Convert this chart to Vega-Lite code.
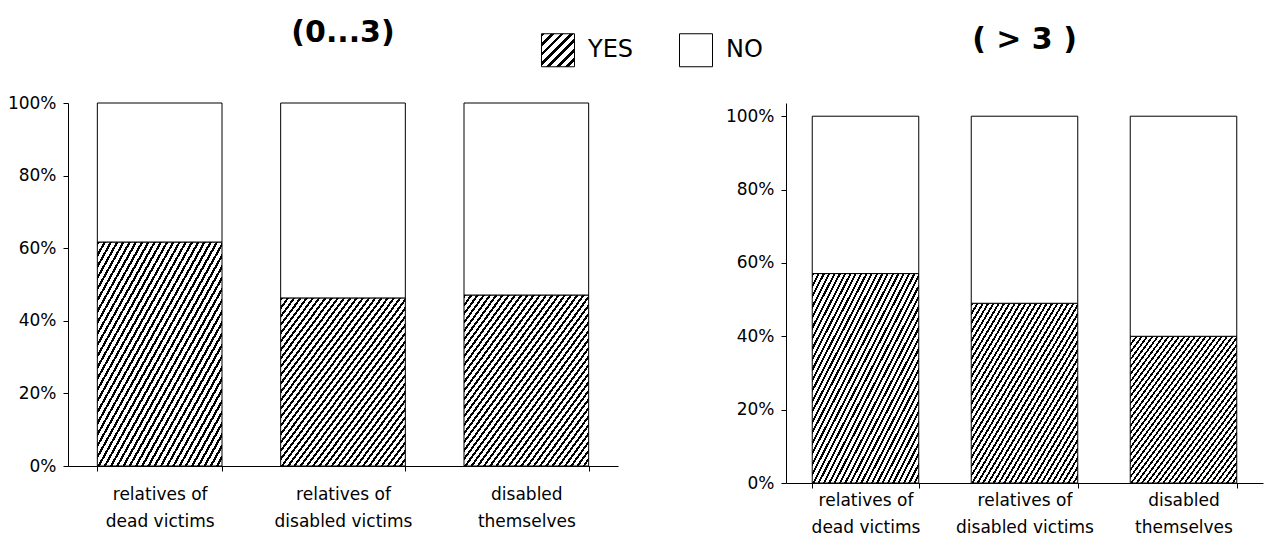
{
  "$schema": "https://vega.github.io/schema/vega-lite/v6.json",
  "background": "white",
  "padding": {"left": 7, "top": 18, "right": 5, "bottom": 5},
  "spacing": 107,
  "data": {"values": [
    {"panel": "a", "group": "relatives of dead victims", "answer": "YES", "share": 0.617},
    {"panel": "a", "group": "relatives of dead victims", "answer": "NO", "share": 0.383},
    {"panel": "a", "group": "relatives of disabled victims", "answer": "YES", "share": 0.463},
    {"panel": "a", "group": "relatives of disabled victims", "answer": "NO", "share": 0.537},
    {"panel": "a", "group": "disabled themselves", "answer": "YES", "share": 0.471},
    {"panel": "a", "group": "disabled themselves", "answer": "NO", "share": 0.529},
    {"panel": "b", "group": "relatives of dead victims", "answer": "YES", "share": 0.571},
    {"panel": "b", "group": "relatives of dead victims", "answer": "NO", "share": 0.429},
    {"panel": "b", "group": "relatives of disabled victims", "answer": "YES", "share": 0.49},
    {"panel": "b", "group": "relatives of disabled victims", "answer": "NO", "share": 0.51},
    {"panel": "b", "group": "disabled themselves", "answer": "YES", "share": 0.4},
    {"panel": "b", "group": "disabled themselves", "answer": "NO", "share": 0.6}
  ]},
  "config": {
    "font": "DejaVu Sans",
    "view": {"stroke": null},
    "axis": {"domainColor": "#000", "tickColor": "#000", "labelColor": "#000", "labelFont": "DejaVu Sans", "labelFontSize": 17, "grid": false, "title": null, "domainWidth": 1, "tickWidth": 1},
    "title": {"font": "DejaVu Sans", "fontSize": 30, "fontWeight": "bold", "color": "#000", "anchor": "middle"}
  },
  "resolve": {"scale": {"x": "independent", "y": "independent"}},
  "hconcat": [
    {
      "width": 550,
      "height": 363,
      "title": {"text": "(0...3)", "offset": 46},
      "layer": [
        {
          "transform": [{"filter": "datum.panel === 'a'"}],
          "mark": {"type": "bar", "stroke": "#000", "strokeWidth": 1, "fillOpacity": 1, "strokeOpacity": 1},
          "encoding": {
            "x": {"field": "group", "type": "nominal", "sort": ["relatives of dead victims", "relatives of disabled victims", "disabled themselves"],
              "scale": {"paddingInner": 0.32, "paddingOuter": 0.16},
              "axis": {"labelAngle": 0, "tickBand": "extent", "tickSize": 5, "labelPadding": 15, "labelAlign": "center", "labelBaseline": "top", "labelLineHeight": 27,
                "labelExpr": "datum.value == 'disabled themselves' ? ['disabled', 'themselves'] : datum.value == 'relatives of dead victims' ? ['relatives of', 'dead victims'] : datum.value == 'relatives of disabled victims' ? ['relatives of', 'disabled victims'] : ''"}},
            "y": {"field": "share", "type": "quantitative", "stack": "zero", "scale": {"domain": [0, 1]},
              "axis": {"values": [0, 0.2, 0.4, 0.6, 0.8, 1], "format": ".0%", "tickSize": 5, "labelPadding": 7}},
            "fill": {"condition": {"test": "datum.answer === 'YES'", "value": {"gradient": "linear", "x1": 0, "y1": 0, "x2": 1, "y2": 1, "stops": [
            {"offset": 0, "color": "#000"}, {"offset": 0.01, "color": "#000"}, {"offset": 0.01, "color": "#fff"}, {"offset": 0.025, "color": "#fff"},
            {"offset": 0.025, "color": "#000"}, {"offset": 0.035, "color": "#000"}, {"offset": 0.035, "color": "#fff"}, {"offset": 0.05, "color": "#fff"},
            {"offset": 0.05, "color": "#000"}, {"offset": 0.06, "color": "#000"}, {"offset": 0.06, "color": "#fff"}, {"offset": 0.075, "color": "#fff"},
            {"offset": 0.075, "color": "#000"}, {"offset": 0.085, "color": "#000"}, {"offset": 0.085, "color": "#fff"}, {"offset": 0.1, "color": "#fff"},
            {"offset": 0.1, "color": "#000"}, {"offset": 0.11, "color": "#000"}, {"offset": 0.11, "color": "#fff"}, {"offset": 0.125, "color": "#fff"},
            {"offset": 0.125, "color": "#000"}, {"offset": 0.135, "color": "#000"}, {"offset": 0.135, "color": "#fff"}, {"offset": 0.15, "color": "#fff"},
            {"offset": 0.15, "color": "#000"}, {"offset": 0.16, "color": "#000"}, {"offset": 0.16, "color": "#fff"}, {"offset": 0.175, "color": "#fff"},
            {"offset": 0.175, "color": "#000"}, {"offset": 0.185, "color": "#000"}, {"offset": 0.185, "color": "#fff"}, {"offset": 0.2, "color": "#fff"},
            {"offset": 0.2, "color": "#000"}, {"offset": 0.21, "color": "#000"}, {"offset": 0.21, "color": "#fff"}, {"offset": 0.225, "color": "#fff"},
            {"offset": 0.225, "color": "#000"}, {"offset": 0.235, "color": "#000"}, {"offset": 0.235, "color": "#fff"}, {"offset": 0.25, "color": "#fff"},
            {"offset": 0.25, "color": "#000"}, {"offset": 0.26, "color": "#000"}, {"offset": 0.26, "color": "#fff"}, {"offset": 0.275, "color": "#fff"},
            {"offset": 0.275, "color": "#000"}, {"offset": 0.285, "color": "#000"}, {"offset": 0.285, "color": "#fff"}, {"offset": 0.3, "color": "#fff"},
            {"offset": 0.3, "color": "#000"}, {"offset": 0.31, "color": "#000"}, {"offset": 0.31, "color": "#fff"}, {"offset": 0.325, "color": "#fff"},
            {"offset": 0.325, "color": "#000"}, {"offset": 0.335, "color": "#000"}, {"offset": 0.335, "color": "#fff"}, {"offset": 0.35, "color": "#fff"},
            {"offset": 0.35, "color": "#000"}, {"offset": 0.36, "color": "#000"}, {"offset": 0.36, "color": "#fff"}, {"offset": 0.375, "color": "#fff"},
            {"offset": 0.375, "color": "#000"}, {"offset": 0.385, "color": "#000"}, {"offset": 0.385, "color": "#fff"}, {"offset": 0.4, "color": "#fff"},
            {"offset": 0.4, "color": "#000"}, {"offset": 0.41, "color": "#000"}, {"offset": 0.41, "color": "#fff"}, {"offset": 0.425, "color": "#fff"},
            {"offset": 0.425, "color": "#000"}, {"offset": 0.435, "color": "#000"}, {"offset": 0.435, "color": "#fff"}, {"offset": 0.45, "color": "#fff"},
            {"offset": 0.45, "color": "#000"}, {"offset": 0.46, "color": "#000"}, {"offset": 0.46, "color": "#fff"}, {"offset": 0.475, "color": "#fff"},
            {"offset": 0.475, "color": "#000"}, {"offset": 0.485, "color": "#000"}, {"offset": 0.485, "color": "#fff"}, {"offset": 0.5, "color": "#fff"},
            {"offset": 0.5, "color": "#000"}, {"offset": 0.51, "color": "#000"}, {"offset": 0.51, "color": "#fff"}, {"offset": 0.525, "color": "#fff"},
            {"offset": 0.525, "color": "#000"}, {"offset": 0.535, "color": "#000"}, {"offset": 0.535, "color": "#fff"}, {"offset": 0.55, "color": "#fff"},
            {"offset": 0.55, "color": "#000"}, {"offset": 0.56, "color": "#000"}, {"offset": 0.56, "color": "#fff"}, {"offset": 0.575, "color": "#fff"},
            {"offset": 0.575, "color": "#000"}, {"offset": 0.585, "color": "#000"}, {"offset": 0.585, "color": "#fff"}, {"offset": 0.6, "color": "#fff"},
            {"offset": 0.6, "color": "#000"}, {"offset": 0.61, "color": "#000"}, {"offset": 0.61, "color": "#fff"}, {"offset": 0.625, "color": "#fff"},
            {"offset": 0.625, "color": "#000"}, {"offset": 0.635, "color": "#000"}, {"offset": 0.635, "color": "#fff"}, {"offset": 0.65, "color": "#fff"},
            {"offset": 0.65, "color": "#000"}, {"offset": 0.66, "color": "#000"}, {"offset": 0.66, "color": "#fff"}, {"offset": 0.675, "color": "#fff"},
            {"offset": 0.675, "color": "#000"}, {"offset": 0.685, "color": "#000"}, {"offset": 0.685, "color": "#fff"}, {"offset": 0.7, "color": "#fff"},
            {"offset": 0.7, "color": "#000"}, {"offset": 0.71, "color": "#000"}, {"offset": 0.71, "color": "#fff"}, {"offset": 0.725, "color": "#fff"},
            {"offset": 0.725, "color": "#000"}, {"offset": 0.735, "color": "#000"}, {"offset": 0.735, "color": "#fff"}, {"offset": 0.75, "color": "#fff"},
            {"offset": 0.75, "color": "#000"}, {"offset": 0.76, "color": "#000"}, {"offset": 0.76, "color": "#fff"}, {"offset": 0.775, "color": "#fff"},
            {"offset": 0.775, "color": "#000"}, {"offset": 0.785, "color": "#000"}, {"offset": 0.785, "color": "#fff"}, {"offset": 0.8, "color": "#fff"},
            {"offset": 0.8, "color": "#000"}, {"offset": 0.81, "color": "#000"}, {"offset": 0.81, "color": "#fff"}, {"offset": 0.825, "color": "#fff"},
            {"offset": 0.825, "color": "#000"}, {"offset": 0.835, "color": "#000"}, {"offset": 0.835, "color": "#fff"}, {"offset": 0.85, "color": "#fff"},
            {"offset": 0.85, "color": "#000"}, {"offset": 0.86, "color": "#000"}, {"offset": 0.86, "color": "#fff"}, {"offset": 0.875, "color": "#fff"},
            {"offset": 0.875, "color": "#000"}, {"offset": 0.885, "color": "#000"}, {"offset": 0.885, "color": "#fff"}, {"offset": 0.9, "color": "#fff"},
            {"offset": 0.9, "color": "#000"}, {"offset": 0.91, "color": "#000"}, {"offset": 0.91, "color": "#fff"}, {"offset": 0.925, "color": "#fff"},
            {"offset": 0.925, "color": "#000"}, {"offset": 0.935, "color": "#000"}, {"offset": 0.935, "color": "#fff"}, {"offset": 0.95, "color": "#fff"},
            {"offset": 0.95, "color": "#000"}, {"offset": 0.96, "color": "#000"}, {"offset": 0.96, "color": "#fff"}, {"offset": 0.975, "color": "#fff"},
            {"offset": 0.975, "color": "#000"}, {"offset": 0.985, "color": "#000"}, {"offset": 0.985, "color": "#fff"}, {"offset": 1, "color": "#fff"}
            ]}}, "value": "#fff"},
            "order": {"field": "answer", "sort": "descending"}
          }
        },
        {
          "transform": [{"filter": "false"}],
          "mark": {"type": "square", "stroke": "#000", "strokeWidth": 1, "opacity": 1},
          "encoding": {
            "color": {"field": "answer", "type": "nominal",
              "scale": {"domain": ["YES", "NO"], "range": [{"expr": "{gradient: 'linear', x1: 0, y1: 0, x2: 1, y2: 1, stops: [{offset: 0, color: '#000'}, {offset: 0.055, color: '#000'}, {offset: 0.055, color: '#fff'}, {offset: 0.143, color: '#fff'}, {offset: 0.143, color: '#000'}, {offset: 0.198, color: '#000'}, {offset: 0.198, color: '#fff'}, {offset: 0.286, color: '#fff'}, {offset: 0.286, color: '#000'}, {offset: 0.341, color: '#000'}, {offset: 0.341, color: '#fff'}, {offset: 0.429, color: '#fff'}, {offset: 0.429, color: '#000'}, {offset: 0.484, color: '#000'}, {offset: 0.484, color: '#fff'}, {offset: 0.571, color: '#fff'}, {offset: 0.571, color: '#000'}, {offset: 0.626, color: '#000'}, {offset: 0.626, color: '#fff'}, {offset: 0.714, color: '#fff'}, {offset: 0.714, color: '#000'}, {offset: 0.769, color: '#000'}, {offset: 0.769, color: '#fff'}, {offset: 0.857, color: '#fff'}, {offset: 0.857, color: '#000'}, {offset: 0.912, color: '#000'}, {offset: 0.912, color: '#fff'}, {offset: 1, color: '#fff'}]}"}, "#fff"]},
              "legend": {"title": null, "orient": "none", "legendX": 473, "legendY": -70, "direction": "horizontal", "symbolType": "square", "symbolSize": 1089,
                "symbolStrokeColor": "#000", "symbolStrokeWidth": 1, "symbolOpacity": 1, "labelFont": "DejaVu Sans", "labelFontSize": 24, "labelColor": "#000", "labelOffset": 13, "columnPadding": 43}}
          }
        }
      ]
    },
    {
      "width": 477,
      "height": 380,
      "title": {"text": "( > 3 )", "offset": 48},
      "transform": [{"filter": "datum.panel === 'b'"}],
      "mark": {"type": "bar", "stroke": "#000", "strokeWidth": 1, "fillOpacity": 1, "strokeOpacity": 1},
      "encoding": {
        "x": {"field": "group", "type": "nominal", "sort": ["relatives of dead victims", "relatives of disabled victims", "disabled themselves"],
          "scale": {"paddingInner": 0.33, "paddingOuter": 0.165},
          "axis": {"labelAngle": 0, "tickBand": "extent", "tickSize": 5, "labelPadding": 4, "labelAlign": "center", "labelBaseline": "top", "labelLineHeight": 27,
            "labelExpr": "datum.value == 'disabled themselves' ? ['disabled', 'themselves'] : datum.value == 'relatives of dead victims' ? ['relatives of', 'dead victims'] : datum.value == 'relatives of disabled victims' ? ['relatives of', 'disabled victims'] : ''"}},
        "y": {"field": "share", "type": "quantitative", "stack": "zero", "scale": {"domain": [0, 1.036], "nice": false},
          "axis": {"values": [0, 0.2, 0.4, 0.6, 0.8, 1], "format": ".0%", "tickSize": 5, "labelPadding": 7}},
        "fill": {"condition": {"test": "datum.answer === 'YES'", "value": {"gradient": "linear", "x1": 0, "y1": 0, "x2": 1, "y2": 1, "stops": [
        {"offset": 0, "color": "#000"}, {"offset": 0.01, "color": "#000"}, {"offset": 0.01, "color": "#fff"}, {"offset": 0.025, "color": "#fff"},
        {"offset": 0.025, "color": "#000"}, {"offset": 0.035, "color": "#000"}, {"offset": 0.035, "color": "#fff"}, {"offset": 0.05, "color": "#fff"},
        {"offset": 0.05, "color": "#000"}, {"offset": 0.06, "color": "#000"}, {"offset": 0.06, "color": "#fff"}, {"offset": 0.075, "color": "#fff"},
        {"offset": 0.075, "color": "#000"}, {"offset": 0.085, "color": "#000"}, {"offset": 0.085, "color": "#fff"}, {"offset": 0.1, "color": "#fff"},
        {"offset": 0.1, "color": "#000"}, {"offset": 0.11, "color": "#000"}, {"offset": 0.11, "color": "#fff"}, {"offset": 0.125, "color": "#fff"},
        {"offset": 0.125, "color": "#000"}, {"offset": 0.135, "color": "#000"}, {"offset": 0.135, "color": "#fff"}, {"offset": 0.15, "color": "#fff"},
        {"offset": 0.15, "color": "#000"}, {"offset": 0.16, "color": "#000"}, {"offset": 0.16, "color": "#fff"}, {"offset": 0.175, "color": "#fff"},
        {"offset": 0.175, "color": "#000"}, {"offset": 0.185, "color": "#000"}, {"offset": 0.185, "color": "#fff"}, {"offset": 0.2, "color": "#fff"},
        {"offset": 0.2, "color": "#000"}, {"offset": 0.21, "color": "#000"}, {"offset": 0.21, "color": "#fff"}, {"offset": 0.225, "color": "#fff"},
        {"offset": 0.225, "color": "#000"}, {"offset": 0.235, "color": "#000"}, {"offset": 0.235, "color": "#fff"}, {"offset": 0.25, "color": "#fff"},
        {"offset": 0.25, "color": "#000"}, {"offset": 0.26, "color": "#000"}, {"offset": 0.26, "color": "#fff"}, {"offset": 0.275, "color": "#fff"},
        {"offset": 0.275, "color": "#000"}, {"offset": 0.285, "color": "#000"}, {"offset": 0.285, "color": "#fff"}, {"offset": 0.3, "color": "#fff"},
        {"offset": 0.3, "color": "#000"}, {"offset": 0.31, "color": "#000"}, {"offset": 0.31, "color": "#fff"}, {"offset": 0.325, "color": "#fff"},
        {"offset": 0.325, "color": "#000"}, {"offset": 0.335, "color": "#000"}, {"offset": 0.335, "color": "#fff"}, {"offset": 0.35, "color": "#fff"},
        {"offset": 0.35, "color": "#000"}, {"offset": 0.36, "color": "#000"}, {"offset": 0.36, "color": "#fff"}, {"offset": 0.375, "color": "#fff"},
        {"offset": 0.375, "color": "#000"}, {"offset": 0.385, "color": "#000"}, {"offset": 0.385, "color": "#fff"}, {"offset": 0.4, "color": "#fff"},
        {"offset": 0.4, "color": "#000"}, {"offset": 0.41, "color": "#000"}, {"offset": 0.41, "color": "#fff"}, {"offset": 0.425, "color": "#fff"},
        {"offset": 0.425, "color": "#000"}, {"offset": 0.435, "color": "#000"}, {"offset": 0.435, "color": "#fff"}, {"offset": 0.45, "color": "#fff"},
        {"offset": 0.45, "color": "#000"}, {"offset": 0.46, "color": "#000"}, {"offset": 0.46, "color": "#fff"}, {"offset": 0.475, "color": "#fff"},
        {"offset": 0.475, "color": "#000"}, {"offset": 0.485, "color": "#000"}, {"offset": 0.485, "color": "#fff"}, {"offset": 0.5, "color": "#fff"},
        {"offset": 0.5, "color": "#000"}, {"offset": 0.51, "color": "#000"}, {"offset": 0.51, "color": "#fff"}, {"offset": 0.525, "color": "#fff"},
        {"offset": 0.525, "color": "#000"}, {"offset": 0.535, "color": "#000"}, {"offset": 0.535, "color": "#fff"}, {"offset": 0.55, "color": "#fff"},
        {"offset": 0.55, "color": "#000"}, {"offset": 0.56, "color": "#000"}, {"offset": 0.56, "color": "#fff"}, {"offset": 0.575, "color": "#fff"},
        {"offset": 0.575, "color": "#000"}, {"offset": 0.585, "color": "#000"}, {"offset": 0.585, "color": "#fff"}, {"offset": 0.6, "color": "#fff"},
        {"offset": 0.6, "color": "#000"}, {"offset": 0.61, "color": "#000"}, {"offset": 0.61, "color": "#fff"}, {"offset": 0.625, "color": "#fff"},
        {"offset": 0.625, "color": "#000"}, {"offset": 0.635, "color": "#000"}, {"offset": 0.635, "color": "#fff"}, {"offset": 0.65, "color": "#fff"},
        {"offset": 0.65, "color": "#000"}, {"offset": 0.66, "color": "#000"}, {"offset": 0.66, "color": "#fff"}, {"offset": 0.675, "color": "#fff"},
        {"offset": 0.675, "color": "#000"}, {"offset": 0.685, "color": "#000"}, {"offset": 0.685, "color": "#fff"}, {"offset": 0.7, "color": "#fff"},
        {"offset": 0.7, "color": "#000"}, {"offset": 0.71, "color": "#000"}, {"offset": 0.71, "color": "#fff"}, {"offset": 0.725, "color": "#fff"},
        {"offset": 0.725, "color": "#000"}, {"offset": 0.735, "color": "#000"}, {"offset": 0.735, "color": "#fff"}, {"offset": 0.75, "color": "#fff"},
        {"offset": 0.75, "color": "#000"}, {"offset": 0.76, "color": "#000"}, {"offset": 0.76, "color": "#fff"}, {"offset": 0.775, "color": "#fff"},
        {"offset": 0.775, "color": "#000"}, {"offset": 0.785, "color": "#000"}, {"offset": 0.785, "color": "#fff"}, {"offset": 0.8, "color": "#fff"},
        {"offset": 0.8, "color": "#000"}, {"offset": 0.81, "color": "#000"}, {"offset": 0.81, "color": "#fff"}, {"offset": 0.825, "color": "#fff"},
        {"offset": 0.825, "color": "#000"}, {"offset": 0.835, "color": "#000"}, {"offset": 0.835, "color": "#fff"}, {"offset": 0.85, "color": "#fff"},
        {"offset": 0.85, "color": "#000"}, {"offset": 0.86, "color": "#000"}, {"offset": 0.86, "color": "#fff"}, {"offset": 0.875, "color": "#fff"},
        {"offset": 0.875, "color": "#000"}, {"offset": 0.885, "color": "#000"}, {"offset": 0.885, "color": "#fff"}, {"offset": 0.9, "color": "#fff"},
        {"offset": 0.9, "color": "#000"}, {"offset": 0.91, "color": "#000"}, {"offset": 0.91, "color": "#fff"}, {"offset": 0.925, "color": "#fff"},
        {"offset": 0.925, "color": "#000"}, {"offset": 0.935, "color": "#000"}, {"offset": 0.935, "color": "#fff"}, {"offset": 0.95, "color": "#fff"},
        {"offset": 0.95, "color": "#000"}, {"offset": 0.96, "color": "#000"}, {"offset": 0.96, "color": "#fff"}, {"offset": 0.975, "color": "#fff"},
        {"offset": 0.975, "color": "#000"}, {"offset": 0.985, "color": "#000"}, {"offset": 0.985, "color": "#fff"}, {"offset": 1, "color": "#fff"}
        ]}}, "value": "#fff"},
        "order": {"field": "answer", "sort": "descending"}
      }
    }
  ]
}
